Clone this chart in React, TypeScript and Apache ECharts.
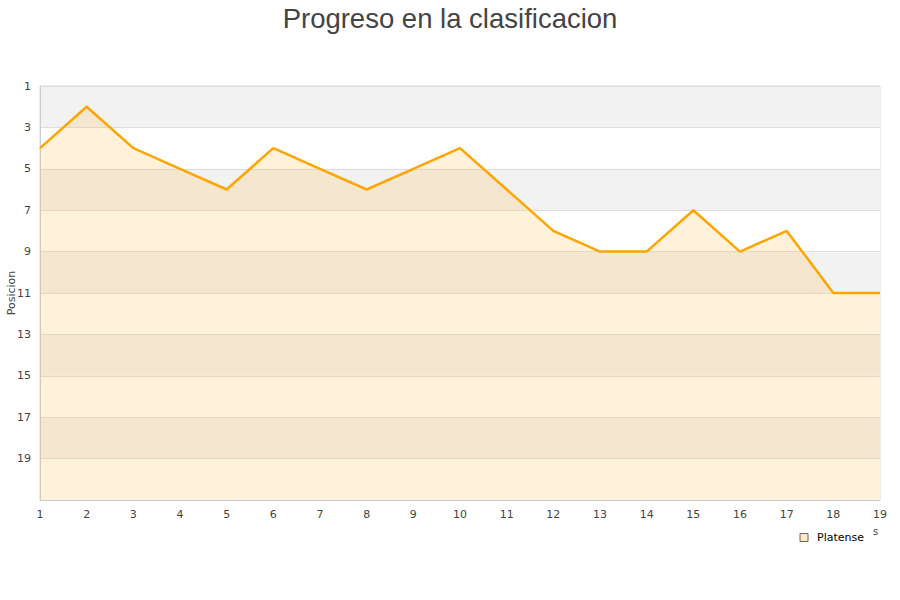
import React, { useEffect, useRef } from "react";
import * as echarts from "echarts";

const fechas = ["1","2","3","4","5","6","7","8","9","10","11","12","13","14","15","16","17","18","19"];
const posiciones = [4, 2, 4, 5, 6, 4, 5, 6, 5, 4, 6, 8, 9, 9, 7, 9, 8, 11, 11];
const equipo = "Platense";
const titulo = "Progreso en la clasificacion";
const nombreEjeY = "Posicion";

export default function App() {
  const ref = useRef<HTMLDivElement>(null);
  useEffect(() => {
    const chart = echarts.init(ref.current!, null, { renderer: "svg" });
    chart.setOption({
      animation: false,
      backgroundColor: "#ffffff",
      title: {
        text: titulo,
        left: "center",
        top: -1,
        textStyle: { fontFamily: "Liberation Sans", fontSize: 27.5, fontWeight: "normal", color: "#444" },
      },
      legend: {
        data: [equipo],
        right: 31,
        top: 527,
        icon: "rect",
        itemWidth: 8,
        itemHeight: 8,
        itemGap: 6,
        textStyle: { fontFamily: "DejaVu Sans", fontSize: 11, color: "#000", padding: [0, 0, 0, 4] },
        itemStyle: { color: "#FFE9C0", borderColor: "#666", borderWidth: 1 },
      },
      grid: {
        left: 40, right: 20, top: 86, bottom: 100,
        show: true, borderColor: "#ddd", borderWidth: 1,
        outerBoundsMode: "none", containLabel: false,
      },
      xAxis: {
        type: "category",
        data: fechas,
        boundaryGap: false,
        axisLine: { lineStyle: { color: "#ccc" } },
        axisTick: { show: false },
        axisLabel: { fontFamily: "DejaVu Sans", fontSize: 11, color: "#444", margin: 9 },
        splitLine: { show: false },
      },
      yAxis: {
        type: "value",
        inverse: true,
        min: 1,
        max: 21,
        interval: 2,
        axisLine: { show: true, lineStyle: { color: "#ccc" } },
        axisTick: { show: false },
        axisLabel: {
          fontFamily: "DejaVu Sans",
          fontSize: 11,
          color: "#444",
          margin: 9,
          formatter: (v: number) => (v === 21 ? "" : String(v)),
        },
        splitLine: { show: true, lineStyle: { color: "#ddd" } },
        splitArea: { show: true, areaStyle: { color: ["#f2f2f2", "#ffffff"] } },
      },
      graphic: [
        {
          type: "text", x: 11, y: 293, rotation: Math.PI / 2,
          style: { text: nombreEjeY, fontFamily: "DejaVu Sans", fontSize: 11, fill: "#444", align: "center", verticalAlign: "middle" },
        },
        { type: "text", left: 873, top: 526, style: { text: "s", fontFamily: "DejaVu Sans", fontSize: 10, fill: "#444" } },
      ],
      series: [
        {
          name: equipo,
          type: "line",
          data: posiciones,
          symbol: "none",
          lineStyle: { color: "#FFA500", width: 2.5 },
          itemStyle: { color: "#FFE9C0" },
          areaStyle: { color: "rgba(255,190,80,0.3)", origin: "end" },
        },
      ],
    });
    return () => chart.dispose();
  }, []);
  return <div ref={ref} style={{ position: "fixed", left: 0, top: 0, width: 900, height: 600 }} />;
}
